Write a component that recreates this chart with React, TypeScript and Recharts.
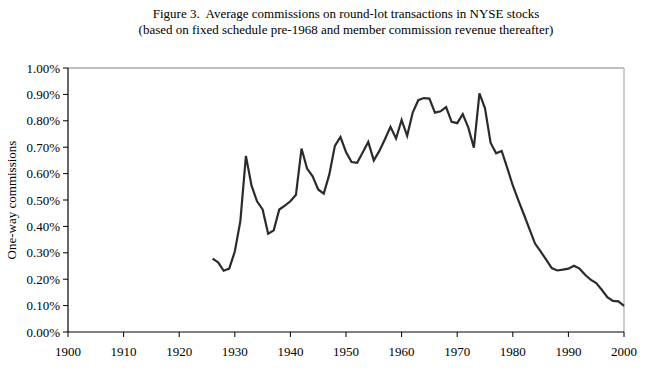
import React from 'react';
import { LineChart, Line, XAxis, YAxis, ReferenceLine } from 'recharts';

// one-way commission, percent of trade value
const years = [
  1926, 1927, 1928, 1929, 1930, 1931, 1932, 1933, 1934, 1935, 1936, 1937, 1938, 1939,
  1940, 1941, 1942, 1943, 1944, 1945, 1946, 1947, 1948, 1949, 1950, 1951, 1952, 1953,
  1954, 1955, 1956, 1957, 1958, 1959, 1960, 1961, 1962, 1963, 1964, 1965, 1966, 1967,
  1968, 1969, 1970, 1971, 1972, 1973, 1974, 1975, 1976, 1977, 1978, 1979, 1980, 1981,
  1982, 1983, 1984, 1985, 1986, 1987, 1988, 1989, 1990, 1991, 1992, 1993, 1994, 1995,
  1996, 1997, 1998, 1999, 2000,
];
const commissions = [
  0.278, 0.264, 0.232, 0.24, 0.305, 0.42, 0.667, 0.555, 0.495, 0.464, 0.372, 0.385, 0.464, 0.479,
  0.495, 0.52, 0.695, 0.619, 0.59, 0.54, 0.524, 0.597, 0.705, 0.739, 0.682, 0.644, 0.641, 0.68,
  0.72, 0.65, 0.686, 0.73, 0.777, 0.733, 0.803, 0.743, 0.831, 0.878, 0.886, 0.884, 0.831, 0.836,
  0.852, 0.796, 0.791, 0.825, 0.774, 0.698, 0.904, 0.847, 0.717, 0.677, 0.686, 0.622, 0.555, 0.499,
  0.445, 0.39, 0.335, 0.305, 0.274, 0.242, 0.233, 0.236, 0.24, 0.251, 0.24, 0.217, 0.198, 0.185,
  0.16, 0.132, 0.118, 0.116, 0.099,
];
const xTicks = [1900, 1910, 1920, 1930, 1940, 1950, 1960, 1970, 1980, 1990, 2000];
const yTicks = [0, 0.1, 0.2, 0.3, 0.4, 0.5, 0.6, 0.7, 0.8, 0.9, 1.0];

const data = years.map((year, i) => ({ year, value: commissions[i] }));

const FONT = '"Liberation Serif", "Times New Roman", serif';
const tickStyle = { fill: '#000', fontSize: 13, fontFamily: FONT };

export default function App() {
  return (
    <div style={{ position: 'absolute', left: 0, top: 0, width: 648, height: 375, background: '#fff', fontFamily: FONT }}>
      <div style={{ position: 'absolute', left: 68, width: 556, top: 6, textAlign: 'center', fontSize: 13, lineHeight: '16px', color: '#000' }}>
        <div>Figure 3.&nbsp; Average commissions on round-lot transactions in NYSE stocks</div>
        <div>(based on fixed schedule pre-1968 and member commission revenue thereafter)</div>
      </div>
      <div style={{ position: 'absolute', left: 12, top: 200, width: 0, height: 0 }}>
        <div style={{ position: 'absolute', transform: 'translate(-50%, -50%) rotate(-90deg)', whiteSpace: 'nowrap', fontSize: 13, color: '#000' }}>
          One-way commissions
        </div>
      </div>
      <LineChart width={648} height={375} data={data} margin={{ top: 68, right: 24, bottom: 13, left: 0 }}>
        <XAxis
          dataKey="year"
          type="number"
          domain={[1900, 2000]}
          ticks={xTicks}
          interval={0}
          height={30}
          tickSize={5}
          tickMargin={10}
          axisLine={{ stroke: '#000', strokeWidth: 1.2 }}
          tickLine={{ stroke: '#000' }}
          tick={tickStyle}
        />
        <YAxis
          type="number"
          domain={[0, 1]}
          ticks={yTicks}
          interval={0}
          width={68}
          tickSize={5}
          tickMargin={3}
          tickFormatter={(v: number) => `${v.toFixed(2)}%`}
          axisLine={{ stroke: '#000', strokeWidth: 1.2 }}
          tickLine={{ stroke: '#000' }}
          tick={tickStyle}
        />
        <ReferenceLine y={1} stroke="#808080" strokeWidth={1} />
        <ReferenceLine x={2000} stroke="#bbbbbb" strokeWidth={1.5} />
        <Line
          type="linear"
          dataKey="value"
          stroke="#2b2b2b"
          strokeWidth={2.2}
          dot={false}
          isAnimationActive={false}
        />
      </LineChart>
    </div>
  );
}
